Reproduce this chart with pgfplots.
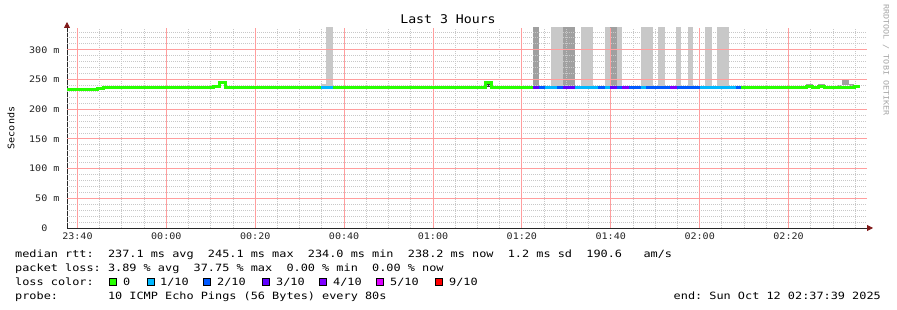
\documentclass[border=0pt]{standalone}
\usepackage{pgfplots}
\pgfplotsset{compat=1.18}
\usepackage{fontspec}
\usetikzlibrary{arrows.meta}
\setmonofont{DejaVu Sans Mono}
\newfontfamily\legfont[FakeStretch=1.186]{DejaVu Sans Mono}
\newfontfamily\tickfont[FakeStretch=1.12]{DejaVu Sans Mono}
\newfontfamily\titlefont[FakeStretch=1.1]{DejaVu Sans Mono}
\definecolor{l0}{HTML}{26FF00}
\definecolor{l1}{HTML}{00B8FF}
\definecolor{l2}{HTML}{0059FF}
\definecolor{l3}{HTML}{5E00FF}
\definecolor{l4}{HTML}{7E00FF}
\definecolor{l5}{HTML}{DD00FF}
\definecolor{l9}{HTML}{FF0000}
\definecolor{smokeA}{HTML}{C8C8C8}
\definecolor{smokeB}{HTML}{A0A0A0}
\definecolor{smokeC}{HTML}{3A3A3A}
\definecolor{mgridc}{HTML}{FF9E9E}
\definecolor{sgridc}{HTML}{C8C8C8}
\definecolor{arr}{HTML}{801818}
\newcommand{\seg}[3]{\addplot[#1, line width=3pt, line cap=butt] coordinates {(#2,237) (#3,237)};}
\newcommand{\smk}[5]{\addplot[fill=#1, draw=none] coordinates {(#2,#4) (#2,#5) (#3,#5) (#3,#4)} -- cycle;}
\begin{document}
\begin{tikzpicture}
\useasboundingbox[fill=white] (0,0) rectangle (897pt,310pt);
\begin{axis}[
  at={(67pt,82pt)}, anchor=south west,
  width=800pt, height=200pt, scale only axis,
  xmin=-2.35, xmax=177.65, ymin=0, ymax=336.7,
  axis lines=left,
  axis line style={black!85, line width=0.8pt, shorten >=-6pt, -{Triangle[length=6pt,width=6pt,color=arr]}},
  xtick={0,20,...,160},
  xticklabels={23:40,00:00,00:20,00:40,01:00,01:20,01:40,02:00,02:20},
  ytick={0,50,...,300},
  yticklabels={0\phantom{~m},50~m,100~m,150~m,200~m,250~m,300~m},
  major tick length=0pt,
  tick label style={font=\tickfont\fontsize{9}{10}\selectfont, text=black!85},
  yticklabel style={anchor=east, xshift=-4pt},
  xticklabel style={anchor=north, yshift=-1pt},
]
% smoke
\smk{smokeA}{54.7}{56.0}{239}{243}
\smk{smokeA}{56.0}{57.4}{239}{400}
\smk{smokeC}{91.8}{93.2}{237}{243}
\smk{smokeB}{102.6}{103.95}{239}{400}
\smk{smokeA}{106.65}{109.35}{239}{400}
\smk{smokeB}{109.35}{112.05}{239}{400}
\smk{smokeA}{113.4}{115.9}{239}{400}
\smk{smokeA}{118.6}{119.9}{239}{400}
\smk{smokeB}{119.9}{121.3}{239}{400}
\smk{smokeA}{121.3}{122.6}{239}{400}
\smk{smokeA}{126.7}{129.4}{239}{400}
\smk{smokeA}{130.7}{132.1}{239}{400}
\smk{smokeA}{134.6}{135.9}{239}{400}
\smk{smokeA}{137.3}{138.6}{239}{400}
\smk{smokeA}{141.3}{142.7}{239}{400}
\smk{smokeA}{144.0}{146.7}{239}{400}
\smk{smokeB}{164.0}{165.4}{238}{242}
\smk{smokeB}{166.7}{168.1}{238}{243}
\smk{smokeB}{170.8}{172.1}{237}{241}
\smk{smokeB}{172.1}{173.5}{240}{251}
\smk{smokeC}{172.1}{173.5}{237.5}{239}
\smk{smokeB}{173.5}{174.8}{238}{243}
% grid (drawn over the smoke, as rrdtool does)
\pgfplotsinvokeforeach{5,10,15,25,30,35,45,50,55,65,70,75,85,90,95,105,110,115,125,130,135,145,150,155,165,170,175}{
  \draw[sgridc, dash pattern=on 1pt off 1pt, line width=0.9pt] (axis cs:#1,0) -- (axis cs:#1,336.7);}
\pgfplotsinvokeforeach{10,20,30,40,60,70,80,90,110,120,130,140,160,170,180,190,210,220,230,240,260,270,280,290,310,320,330}{
  \draw[sgridc, dash pattern=on 1pt off 1pt, line width=0.9pt] (axis cs:-2.35,#1) -- (axis cs:177.65,#1);}
\pgfplotsinvokeforeach{0,20,40,60,80,100,120,140,160}{
  \draw[mgridc, line width=0.9pt] (axis cs:#1,0) -- (axis cs:#1,336.7);}
\pgfplotsinvokeforeach{50,100,150,200,250,300}{
  \draw[mgridc, line width=0.9pt] (axis cs:-2.35,#1) -- (axis cs:177.65,#1);}
% median (0 loss)
\addplot[const plot, l0, line width=3pt] coordinates {
(-2.35,234) (4.5,235) (5.9,237) (30.6,238) (32.0,245) (33.3,237)
(91.8,245) (93.2,237) (164.0,238) (165.4,236) (166.7,238) (168.1,236)
(170.8,237) (172.1,236) (173.5,237) (174.8,238) (176.0,238)};
% loss coloured median
\seg{l1}{54.7}{57.4}
\seg{l3}{102.6}{103.95}
\seg{l2}{103.95}{105.3}
\seg{l1}{105.3}{108.0}
\seg{l2}{108.0}{109.35}
\seg{l3}{109.35}{112.05}
\seg{l1}{112.05}{117.2}
\seg{l2}{117.2}{118.6}
\seg{l1}{118.6}{119.9}
\seg{l3}{119.9}{121.3}
\seg{l2}{121.3}{122.6}
\seg{l4}{122.6}{124.0}
\seg{l2}{124.0}{126.7}
\seg{l1}{126.7}{128.0}
\seg{l2}{128.0}{133.4}
\seg{l4}{133.4}{134.8}
\seg{l2}{134.8}{140.0}
\seg{l1}{140.0}{148.1}
\seg{l2}{148.1}{149.4}
\end{axis}
% texts
\node[anchor=base, inner sep=0] at (448pt,286pt) {\titlefont\fontsize{12}{14}\selectfont Last 3 Hours};
\node[rotate=90, inner sep=0] at (11pt,182pt) {\tickfont\fontsize{9}{10}\selectfont Seconds};
\node[rotate=-90, inner sep=0, text=black!35] at (886pt,250pt) {\tickfont\fontsize{7.5}{8}\selectfont RRDTOOL / TOBI OETIKER};
\node[anchor=base west, inner sep=0] at (15pt,52pt) {\legfont\fontsize{10}{12}\selectfont median~rtt:~~237.1~ms~avg~~245.1~ms~max~~234.0~ms~min~~238.2~ms~now~~1.2~ms~sd~~190.6~~~am/s};
\node[anchor=base west, inner sep=0] at (15pt,38pt) {\legfont\fontsize{10}{12}\selectfont packet~loss:~3.89~\%~avg~~37.75~\%~max~~0.00~\%~min~~0.00~\%~now};
\node[anchor=base west, inner sep=0] at (15pt,24pt) {\legfont\fontsize{10}{12}\selectfont loss~color:};
\foreach \bx/\c in {109/l0,147/l1,203/l2,262/l3,319/l4,376/l5,435/l9}{
  \fill[\c, draw=black, line width=0.6pt] (\bx pt+0.5pt,24.5pt) rectangle (\bx pt+7.5pt,31.5pt);
}
\node[anchor=base west, inner sep=0] at (123pt,24pt) {\legfont\fontsize{10}{12}\selectfont 0};
\node[anchor=base west, inner sep=0] at (160pt,24pt) {\legfont\fontsize{10}{12}\selectfont 1/10};
\node[anchor=base west, inner sep=0] at (217pt,24pt) {\legfont\fontsize{10}{12}\selectfont 2/10};
\node[anchor=base west, inner sep=0] at (276pt,24pt) {\legfont\fontsize{10}{12}\selectfont 3/10};
\node[anchor=base west, inner sep=0] at (333pt,24pt) {\legfont\fontsize{10}{12}\selectfont 4/10};
\node[anchor=base west, inner sep=0] at (390pt,24pt) {\legfont\fontsize{10}{12}\selectfont 5/10};
\node[anchor=base west, inner sep=0] at (449pt,24pt) {\legfont\fontsize{10}{12}\selectfont 9/10};
\node[anchor=base west, inner sep=0] at (15pt,10pt) {\legfont\fontsize{10}{12}\selectfont probe:~~~~~~~10~ICMP~Echo~Pings~(56~Bytes)~every~80s};
\node[anchor=base east, inner sep=0] at (881pt,10pt) {\legfont\fontsize{10}{12}\selectfont end:~Sun~Oct~12~02:37:39~2025};
\end{tikzpicture}
\end{document}
